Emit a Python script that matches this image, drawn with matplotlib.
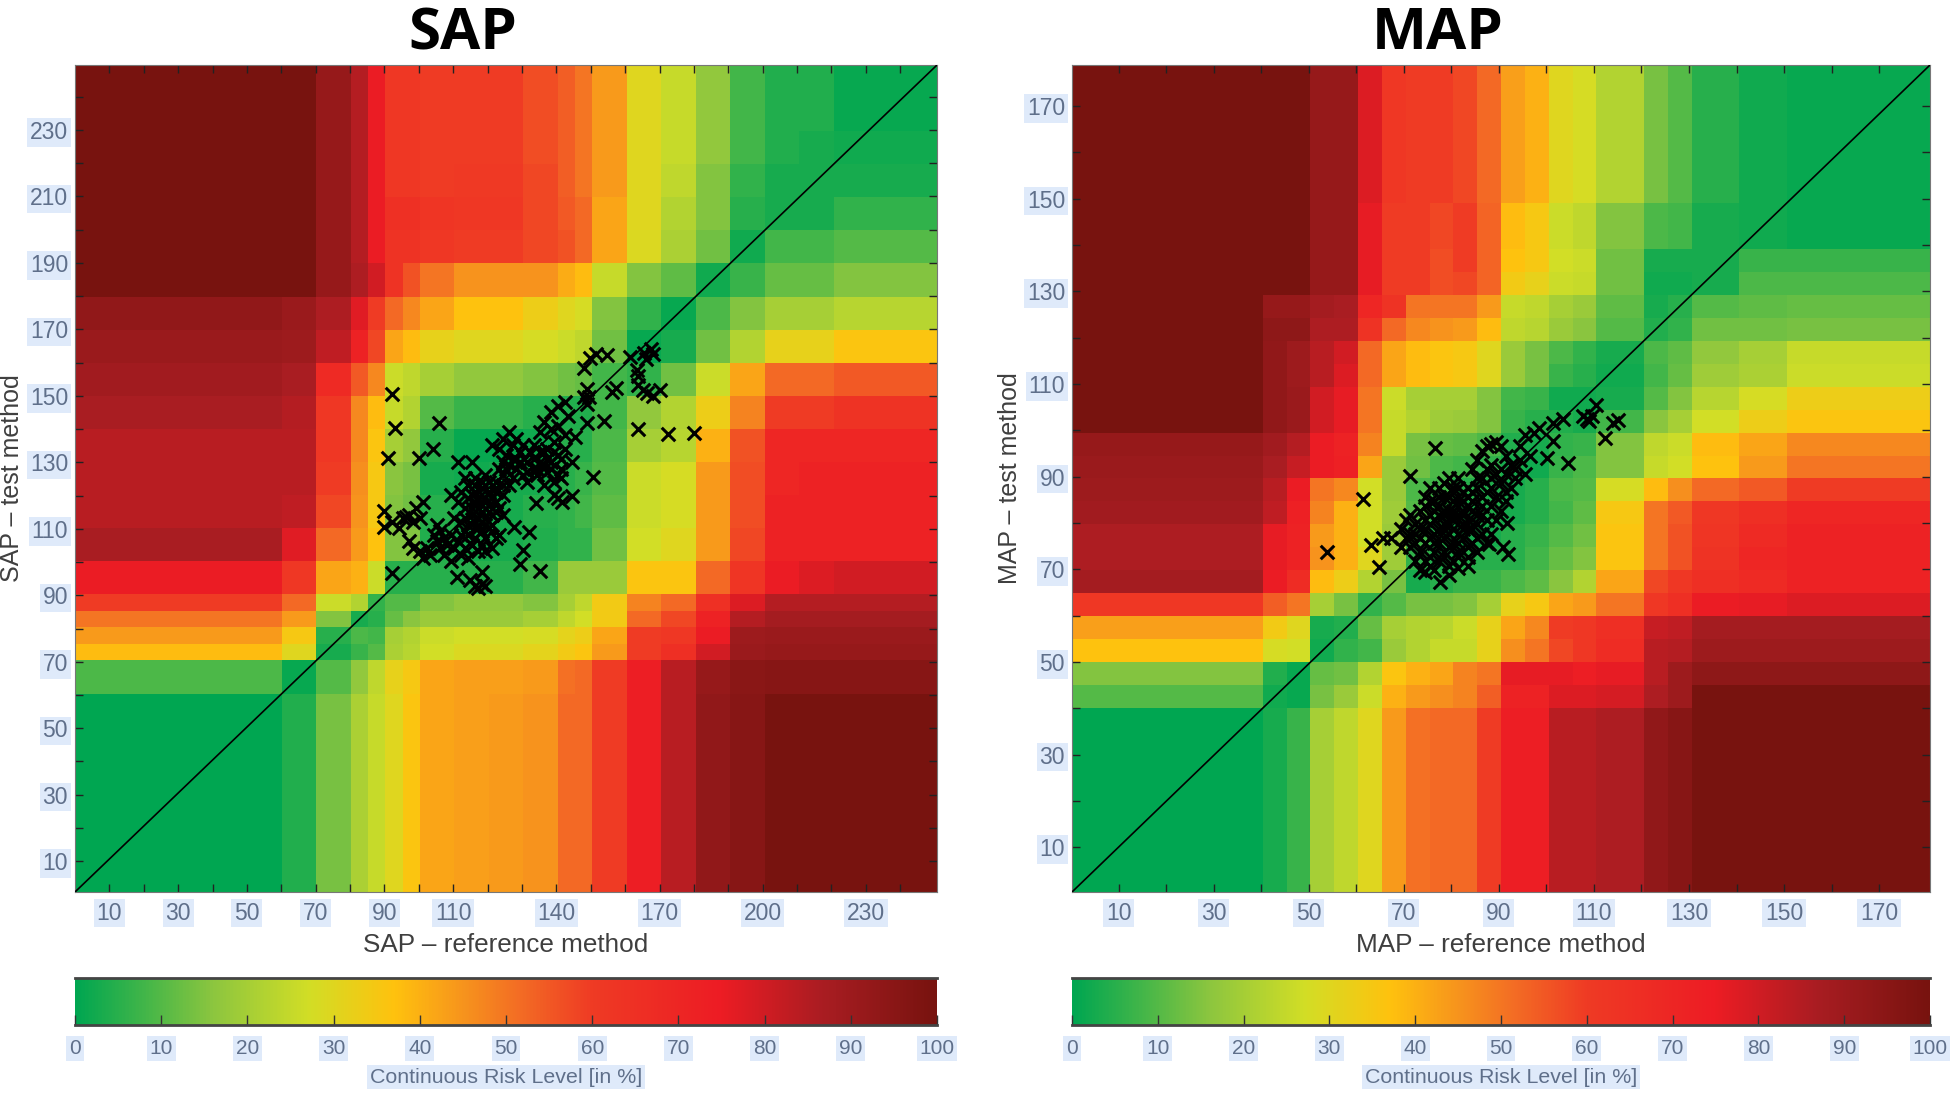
import matplotlib
matplotlib.use("Agg")
import matplotlib.pyplot as plt
import numpy as np
from matplotlib.colors import LinearSegmentedColormap

W, H = 1952, 1100

sap_x_edges = [0,60,70,80,85,90,95,100,110,120,130,140,145,150,160,170,180,190,200,210,220,250]
sap_y_edges = [0,60,70,75,80,85,90,100,110,120,130,140,150,160,170,180,190,200,210,220,230,250]
sap_risk_top_down = [
 [100,100,92,85,75,62,62,60,60,60,57,54,50,44,30,25,17,8,4,4,1],
 [100,100,92,85,75,62,62,60,60,60,57,54,50,44,30,25,17,8,4,3,2],
 [100,100,92,85,75,62,62,60,61,61,58,54,50,44,30,24,15,6,3,3,3],
 [100,100,92,85,75,65,65,63,62,62,58,55,52,42,30,22,15,5,3,3,6],
 [100,100,92,85,75,64,64,62,60,60,58,56,52,42,29,21,13,2,8,8,10],
 [100,100,92,86,80,64,56,50,45,45,45,41,38,25,15,11,2,7,12,12,15],
 [93,91,86,77,60,52,47,42,37,37,33,30,28,15,6,1,9,15,20,20,23],
 [91,90,83,72,58,42,38,32,30,30,28,26,24,13,1,3,13,22,32,32,36],
 [89,87,68,55,47,26,24,20,17,17,15,13,12,8,6,13,26,42,52,52,55],
 [87,85,62,47,38,25,22,10,7,7,5,4,4,8,17,22,33,48,60,60,64],
 [84,84,62,47,36,20,17,5,1,1,2,5,5,9,20,23,40,56,70,70,70],
 [84,84,60,46,35,16,14,3,2,3,3,5,7,10,26,28,44,57,70,72,72],
 [84,83,58,45,35,15,13,5,3,3,5,6,8,11,26,28,44,57,72,72,72],
 [87,77,52,44,37,15,15,4,3,3,4,6,6,13,27,30,44,58,72,72,72],
 [75,62,42,40,26,5,5,5,5,5,8,18,18,18,36,36,52,63,75,78,80],
 [60,52,26,22,6,10,10,15,17,17,15,20,24,34,48,52,65,78,85,85,85],
 [50,44,15,3,5,12,16,18,18,18,20,24,27,34,52,58,72,85,88,88,88],
 [44,35,5,9,8,20,22,26,27,27,28,31,33,42,60,62,75,90,91,91,91],
 [38,30,3,7,10,21,23,27,29,29,31,34,36,44,60,66,80,91,92,92,92],
 [9,1,10,17,24,32,35,42,43,43,44,51,52,60,74,84,92,95,96,96,96],
 [0,4,14,21,25,30,36,42,43,44,45,52,52,60,74,84,93,96,100,100,100],
]

map_x_edges = [0,40,45,50,55,60,65,70,75,80,85,90,95,100,105,110,120,125,130,140,150,180]
map_y_edges = [0,40,45,50,55,60,65,70,75,80,85,90,95,100,105,110,115,120,125,130,135,140,150,180]
map_risk_top_down = [
 [100,100,100,92,92,78,62,60,60,58,52,43,40,30,28,22,14,10,5,2,1],
 [100,100,100,92,92,76,60,60,58,60,53,38,35,26,24,15,9,8,3,2,1],
 [100,100,100,92,92,76,60,60,57,60,53,37,35,27,26,13,3,3,3,7,7],
 [100,100,100,92,92,76,60,60,57,58,53,34,32,26,25,13,2,2,3,9,9],
 [100,92,92,88,87,70,64,50,50,50,44,25,24,20,18,11,3,5,10,11,12],
 [100,94,94,86,86,64,52,47,45,44,38,24,23,18,16,10,4,6,13,13,14],
 [100,93,90,84,80,52,42,38,36,35,30,18,14,9,6,3,9,11,17,20,25],
 [100,93,90,84,78,52,42,38,36,35,30,18,14,7,5,2,8,12,19,21,26],
 [100,93,91,80,76,50,26,20,20,20,15,8,7,2,2,3,10,15,23,28,33],
 [100,93,91,80,76,50,25,22,19,18,15,7,5,4,3,8,16,20,27,33,36],
 [92,89,85,75,72,48,25,14,12,11,9,4,3,6,7,15,24,26,38,42,47],
 [91,87,82,75,73,42,18,13,9,8,6,3,2,7,9,15,25,27,37,44,50],
 [90,84,75,50,47,27,18,9,8,5,4,3,5,9,10,28,38,46,52,55,60],
 [89,83,73,48,40,27,19,10,6,4,4,3,5,8,11,35,50,55,62,66,70],
 [86,76,72,44,40,27,18,8,5,3,3,5,7,10,13,36,50,56,63,68,72],
 [86,76,72,45,40,30,19,6,4,5,5,5,8,12,15,36,50,56,64,70,72],
 [88,75,67,38,33,22,14,3,5,7,7,9,11,16,22,42,58,62,66,68,72],
 [62,54,50,20,14,6,10,14,14,15,20,32,35,42,44,50,62,66,75,76,78],
 [43,34,30,3,4,12,20,22,23,26,32,42,47,60,62,66,82,83,88,88,88],
 [37,28,27,2,6,8,18,22,25,25,32,46,50,58,62,67,84,85,90,90,90],
 [15,4,1,12,13,22,36,40,42,48,50,76,76,76,74,76,84,90,94,94,94],
 [10,2,1,14,18,26,40,44,46,48,54,72,72,78,78,79,86,90,100,100,100],
 [0,3,7,20,24,30,44,51,52,52,60,74,74,84,84,86,93,96,100,100,100],
]

sap_points = [
 (91.8,150.4),(92.8,140.4),(105.6,141.7),(90.9,131.3),(99.9,131.1),(103.9,134),(163.2,139.9),(171.9,138.4),(179.6,138.7),
 (153.5,142.5),(148.4,141.7),(145,137.6),(150.1,125.5),(133.6,117.5),(141.3,117.9),(144,119.8),(134.9,97.1),(129,99.2),
 (130,103.4),(131.8,108.7),(127.4,110.4),(91.8,96.3),(89.6,115.2),(89.6,110.2),(110.9,95.1),(114.6,94.3),(118,96.8),
 (116,92.5),(118,93),(117,92),(119,92.5),(147.6,158.3),(149.4,161.3),(151,162.6),(154.2,162.3),(161,161.7),(162.9,157.8),
 (163.4,156),(163.4,153.3),(164.8,151.8),(165.8,150.8),(167.7,150),(169.7,151.9),(155.7,151),(157,152.5),(167,164),
 (167.5,162.5),(165.6,161),(165,163),(148.6,152),(147.6,149.5),(148.6,147.5),(149,149.5),
 (92,112),(95,113),(96,113.5),(97,114),(98,112),(99,116),(100,113),(101,118),(94,110),
 (97,106),(98,104),(100,103),(101,101),(103,102),(102,104),(105,106),(106,104),(107,107),(108,105),(107,102),
 (109,100),(110,104),(109,108),(106,109),(105,111),(104,108),(112,102),(113,104),(114,101),(111,106),(113,109),
 (110,113),(112,112),(114,111),(116,110),(118,109),(116,107),(115,105),(118,105),(119,103),(121,104),(122,107),
 (120,110),(123,108),(117,113),(115,114),(119,113),(121,114),(124,114),(113,116),(111,118),(109,120),(114,119),
 (116,118),(118,117),(120,117),(122,118),(112,121),(114,123),(116,121),(118,122),(120,121),(122,122),(124,120),
 (126,123),(113,125),(116,125),(119,126),(111,130),(115,130),(124,126),(127,125),(128,128),(130,126),(131,130),
 (124,130),(126,129),(125,132),(123,134),(121,135),(124,137),(127,135),(129,133),(133,128),(135,130),(137,127),
 (136,123),(139,124),(141,128),(138,130),(140,132),(142,134),(139,136),(136,133),(133,135),(135,139),(138,140),
 (140,141),(136,142),(138,145),(140,147),(142,148),(143,144),(142,138),(144,130),(137,131),(134,126),(131,124),
 (141,125),(139,120),(140,119),(128,131),(132,133),(126,139),
 (115,120),(117,119),(119,119),(121,119),(123,116),(117,116),(115,116),(113,113),(117,110),(119,111),(121,111),
 (116,112),(118,115),(120,115),(122,115),(114,108),(112,108),(117,103),(119,107),(122,121),(124,123),(116,123),
 (118,124),(120,124),(122,124),(125,128),(127,131),(129,130),(131,127),(133,131),(135,133),(137,134),(139,133),
 (141,131),(134,128),(136,129),(138,128),(140,126),(130,135),(128,137),(123,128),
]

map_points = [
 (53.4,74.1),(61.1,85.5),(76.1,96.7),(71,90.6),(62.7,75.5),(64.5,70.8),(65.3,77),(111.8,98.8),(114.6,102.7),(113.6,102),
 (110,106),(107.3,103.5),(104.1,93.3),(99.6,94.4),(100.9,98.2),(91.5,73.6),(90.5,75),(87.5,75.8),(77.2,67.5),(81,70.5),
 (74,69.7),(91.2,80.3),(91,85),(108,103),(109,103.5),(108.5,102.5),(103,103),(101,102),(98,101),(97,100),(95,99.5),(94,97),
 (96,95),(94,94),(92,93),(93,90),(95,91),(91,95),(90,97),(88,97.5),(89,98),(87,97),(86,96),(85,94),(88,93),(90,92),
 (92,88),(90,89),(88,90),(86,90),(84,92),(85,88),(87,87),(89,86),(91,87),(90,83),(88,84),(86,84),(84,85),(83,88),(81,90),
 (82,87),(80,88),(78,89),(79,86),(81,85),(83,84),(85,82),(87,81),(89,81),(88,78),(86,78),(84,79),(82,80),(80,82),(78,83),
 (76,85),(75,88),(74,86),(77,86),(73,83),(71,82),(70,81),(72,80),(74,81),(76,81),(78,80),(80,79),(82,77),(84,76),(85,74),
 (83,73),(81,74),(79,75),(77,76),(75,77),(73,77),(71,78),(69,79),(67,77),(69,75),(71,75),(73,74),(75,73),(77,72),(79,71),
 (81,73),(83,71),(79,69),(76,70),(74,72),(72,72),(76,74),(78,74),(80,76),(78,77),(76,78),(74,79),(72,78),(75,80),(77,82),
 (79,83),(81,82),(83,81),(85,80),(82,83),(80,85),(78,86),(76,83),(74,84),(77,79),(79,80),(81,78),(83,79),(85,77),(87,76),
 (84,87),(82,85),(86,86),(88,88),(80,87),(79,90),(77,88),(75,82),(73,79),(76,76),(78,79),(80,81),(82,82),(84,83),(86,82),
 (83,86),(81,88),(85,90),(87,92),(89,91),(91,91),(93,92),(77,84),(75,85),(78,82),(80,83),(82,79),(79,78),(81,76),(83,75),
 (74,76),(72,76),(70,77),(78,73),(80,72),(75,71),(73,70),
]

cmap_stops = [(0.00,'#00a651'),(0.08,'#43b649'),(0.16,'#8dc63f'),(0.27,'#d2de26'),(0.37,'#ffc20e'),(0.45,'#f7941d'),
              (0.52,'#f36a25'),(0.60,'#ef3b24'),(0.75,'#ed1c24'),(0.87,'#a91d22'),(1.00,'#78130f')]
risk_cmap = LinearSegmentedColormap.from_list('risk', cmap_stops)

sap_major_x = [10,30,50,70,90,110,140,170,200,230]
sap_major_y = [10,30,50,70,90,110,130,150,170,190,210,230]
map_major = [10,30,50,70,90,110,130,150,170]
bar_ticks = [0,10,20,30,40,50,60,70,80,90,100]

plt.rcParams['font.family'] = ['Liberation Sans', 'DejaVu Sans']
fig = plt.figure(figsize=(W/100, H/100), dpi=100, facecolor='white')

def axrect(l, t, r, b):
    return [l/W, 1-b/H, (r-l)/W, (b-t)/H]

LABEL = '#5f6f8a'
HILITE = '#dfeafa'

def hilite(texts):
    for t in texts:
        t.set_bbox(dict(facecolor=HILITE, edgecolor='none', pad=2))

def panel(rect, xe, ye, rows, points, lim, xmaj, ymaj, xlab, ylab, ylabel_x, xcal, ycal):
    # xcal / ycal: (tick drawn for value 10, scale): the reference's tick ruler sits slightly off its cells
    ax = fig.add_axes(rect)
    z = np.array(rows, dtype=float)[::-1]
    ax.pcolormesh(xe, ye, z, cmap=risk_cmap, vmin=0, vmax=100, shading='flat', rasterized=True, linewidth=0)
    ax.plot([0, lim], [0, lim], color='black', lw=1.2, zorder=3)
    px, py = zip(*points)
    ax.scatter(px, py, marker='x', s=95, c='black', linewidths=2.2, zorder=4)
    ax.set_xlim(0, lim); ax.set_ylim(0, lim)
    allt = list(range(10, lim, 10))
    xt = lambda v: xcal[0] + (v - 10) * xcal[1]
    yt = lambda v: ycal[0] + (v - 10) * ycal[1]
    ax.set_xticks([xt(v) for v in xmaj], labels=[str(v) for v in xmaj])
    ax.set_yticks([yt(v) for v in ymaj], labels=[str(v) for v in ymaj])
    ax.set_xticks([xt(t) for t in allt if t not in xmaj], minor=True)
    ax.set_yticks([yt(t) for t in allt if t not in ymaj], minor=True)
    for which in ('major', 'minor'):
        ax.tick_params(axis='both', which=which, direction='in', length=6, width=1, color='#222222',
                       top=True, right=True, labelsize=16.5, labelcolor=LABEL)
    ax.tick_params(axis='x', which='major', pad=7)
    ax.tick_params(axis='y', which='major', pad=5)
    hilite(ax.get_xticklabels()); hilite(ax.get_yticklabels())
    for s in ax.spines.values():
        s.set_visible(True); s.set_linewidth(0.8); s.set_color('#777777')
    ax.set_xlabel(xlab, fontsize=18.8, color='#3f3f3f', labelpad=6)
    ax.set_ylabel(ylab, fontsize=18, color='#3f3f3f', va='center')
    ax.yaxis.set_label_coords(ylabel_x, 0.5)
    return ax

def colorbar(rect):
    ax = fig.add_axes(rect)
    grad = np.linspace(0, 100, 512)[None, :]
    ax.imshow(grad, cmap=risk_cmap, vmin=0, vmax=100, aspect='auto', extent=[0, 100, 0, 1])
    ax.set_yticks([])
    ax.set_xticks(bar_ticks)
    ax.tick_params(axis='x', direction='in', length=7, width=1, color='#333333',
                   labelsize=15, labelcolor=LABEL, pad=10)
    hilite(ax.get_xticklabels())
    ax.spines['left'].set_visible(False); ax.spines['right'].set_visible(False)
    for side in ('top', 'bottom'):
        ax.spines[side].set_linewidth(2); ax.spines[side].set_color('#444444')
    t = ax.set_xlabel('Continuous Risk Level [in %]', fontsize=15.4, color=LABEL, labelpad=7)
    hilite([t])
    return ax

panel(axrect(75, 65, 937, 892), sap_x_edges, sap_y_edges, sap_risk_top_down, sap_points, 250,
      sap_major_x, sap_major_y, 'SAP – reference method', 'SAP – test method', (12-75)/862,
      (10, 0.997), (9.3, 1.005))
panel(axrect(1072, 65, 1930, 892), map_x_edges, map_y_edges, map_risk_top_down, map_points, 180,
      map_major, map_major, 'MAP – reference method', 'MAP – test method', (1010-1072)/858,
      (9.8, 0.997), (9.75, 1.0084))
colorbar(axrect(75, 978, 937, 1025))
colorbar(axrect(1072, 978, 1930, 1025))

fig.text(463/W, 1-34/H, 'SAP', ha='center', va='center', fontsize=42, fontweight='bold', family=['Open Sans', 'DejaVu Sans'], color='black')
fig.text(1438/W, 1-34/H, 'MAP', ha='center', va='center', fontsize=42, fontweight='bold', family=['Open Sans', 'DejaVu Sans'], color='black')

fig.savefig('out.png', dpi=100)
